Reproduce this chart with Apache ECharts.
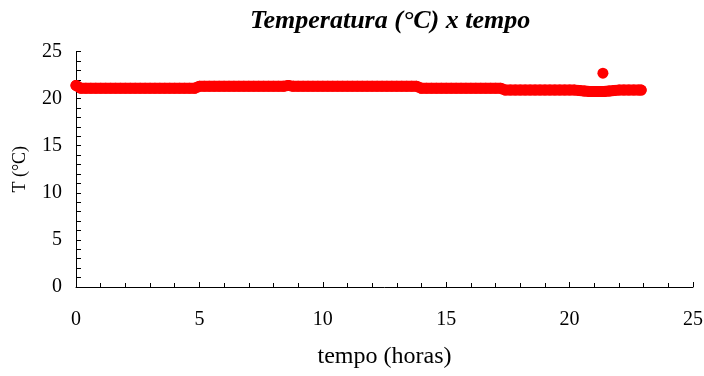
<!DOCTYPE html>
<html>
<head>
<meta charset="utf-8">
<script src="https://cdn.jsdelivr.net/npm/echarts@6/dist/echarts.min.js"></script>
<style>html,body{margin:0;padding:0;background:#fff}#c{width:704px;height:376px}</style>
</head>
<body>
<div id="c"></div>
<script>
var hours = [0,0.2,0.4,0.6,0.8,1.0,1.2,1.4,1.6,1.8,2.0,2.2,2.4,2.6,2.8,3.0,3.2,3.4,3.6,3.8,4.0,4.2,4.4,4.6,4.8,
5.0,5.2,5.4,5.6,5.8,6.0,6.2,6.4,6.6,6.8,7.0,7.2,7.4,7.6,7.8,8.0,8.2,8.4,8.6,8.8,9.0,9.2,9.4,9.6,9.8,10.0,10.2,10.4,10.6,10.8,11.0,11.2,11.4,11.6,11.8,12.0,12.2,12.4,12.6,12.8,13.0,13.2,13.4,13.6,13.8,
14.0,14.2,14.4,14.6,14.8,15.0,15.2,15.4,15.6,15.8,16.0,16.2,16.4,16.6,16.8,17.0,17.2,
17.4,17.6,17.8,18.0,18.2,18.4,18.6,18.8,19.0,19.2,19.4,19.6,19.8,20.0,20.2,
20.4,20.6,20.8,21.0,21.2,21.4,21.6,21.8,
22.0,22.2,22.4,22.6,22.8,22.9];
var temps = [21.4,21.1,21.1,21.1,21.1,21.1,21.1,21.1,21.1,21.1,21.1,21.1,21.1,21.1,21.1,21.1,21.1,21.1,21.1,21.1,21.1,21.1,21.1,21.1,21.1,
21.3,21.3,21.3,21.3,21.3,21.3,21.3,21.3,21.3,21.3,21.3,21.3,21.3,21.3,21.3,21.3,21.3,21.3,21.4,21.3,21.3,21.3,21.3,21.3,21.3,21.3,21.3,21.3,21.3,21.3,21.3,21.3,21.3,21.3,21.3,21.3,21.3,21.3,21.3,21.3,21.3,21.3,21.3,21.3,21.3,
21.1,21.1,21.1,21.1,21.1,21.1,21.1,21.1,21.1,21.1,21.1,21.1,21.1,21.1,21.1,21.1,21.1,
20.9,20.9,20.9,20.9,20.9,20.9,20.9,20.9,20.9,20.9,20.9,20.9,20.9,20.9,20.9,
20.85,20.8,20.75,20.75,20.75,20.75,20.8,20.85,
20.9,20.9,20.9,20.9,20.9,20.9];
var outlierHours = [21.35];
var outlierTemps = [22.7];

var xTicks = [0,5,10,15,20,25];
var yTicks = [0,5,10,15,20,25];

var pts = hours.map(function(h,i){return [h,temps[i]];});
var outPts = outlierHours.map(function(h,i){return [h,outlierTemps[i]];});

var serif = '"Liberation Serif","Times New Roman",serif';
var chart = echarts.init(document.getElementById('c'));
chart.setOption({
  animation:false,
  backgroundColor:'#fff',
  title:{text:'Temperatura (°C) x tempo',left:245,top:3,
    textStyle:{fontFamily:serif,fontSize:26,fontWeight:'bold',fontStyle:'italic',color:'#000'}},
  grid:{left:76,right:11,top:51.5,bottom:89,containLabel:false,outerBoundsMode:'none'},
  xAxis:{type:'value',min:xTicks[0],max:xTicks[xTicks.length-1],interval:5,
    name:'tempo (horas)',nameLocation:'middle',nameGap:58,
    nameTextStyle:{fontFamily:serif,fontSize:24,color:'#000'},
    axisLine:{show:true,lineStyle:{color:'#000',width:1}},
    axisTick:{show:true,inside:true,length:5,lineStyle:{color:'#000'}},
    minorTick:{show:true,splitNumber:5,length:4,lineStyle:{color:'#000'}},
    splitLine:{show:false},
    axisLabel:{margin:23,fontFamily:serif,fontSize:20,color:'#000'}},
  yAxis:{type:'value',min:yTicks[0],max:yTicks[yTicks.length-1],interval:5,
    name:'T (°C)',nameLocation:'middle',nameGap:47,nameRotate:90,
    nameTextStyle:{fontFamily:serif,fontSize:18,color:'#000'},
    axisLine:{show:true,lineStyle:{color:'#000',width:1}},
    axisTick:{show:true,inside:true,length:5,lineStyle:{color:'#000'}},
    minorTick:{show:true,splitNumber:5,length:5,lineStyle:{color:'#000'}},
    splitLine:{show:false},
    axisLabel:{margin:14,fontFamily:serif,fontSize:20,color:'#000'}},
  series:[
    {type:'line',data:pts,showSymbol:false,symbol:'none',silent:true,
      lineStyle:{color:'#ff0000',width:11,cap:'round',join:'round'}},
    {type:'scatter',data:pts,symbol:'circle',symbolSize:11,
      itemStyle:{color:'#ff0000',opacity:1}},
    {type:'scatter',data:outPts,symbol:'circle',symbolSize:11,
      itemStyle:{color:'#ff0000',opacity:1}}
  ]
});
</script>
</body>
</html>
